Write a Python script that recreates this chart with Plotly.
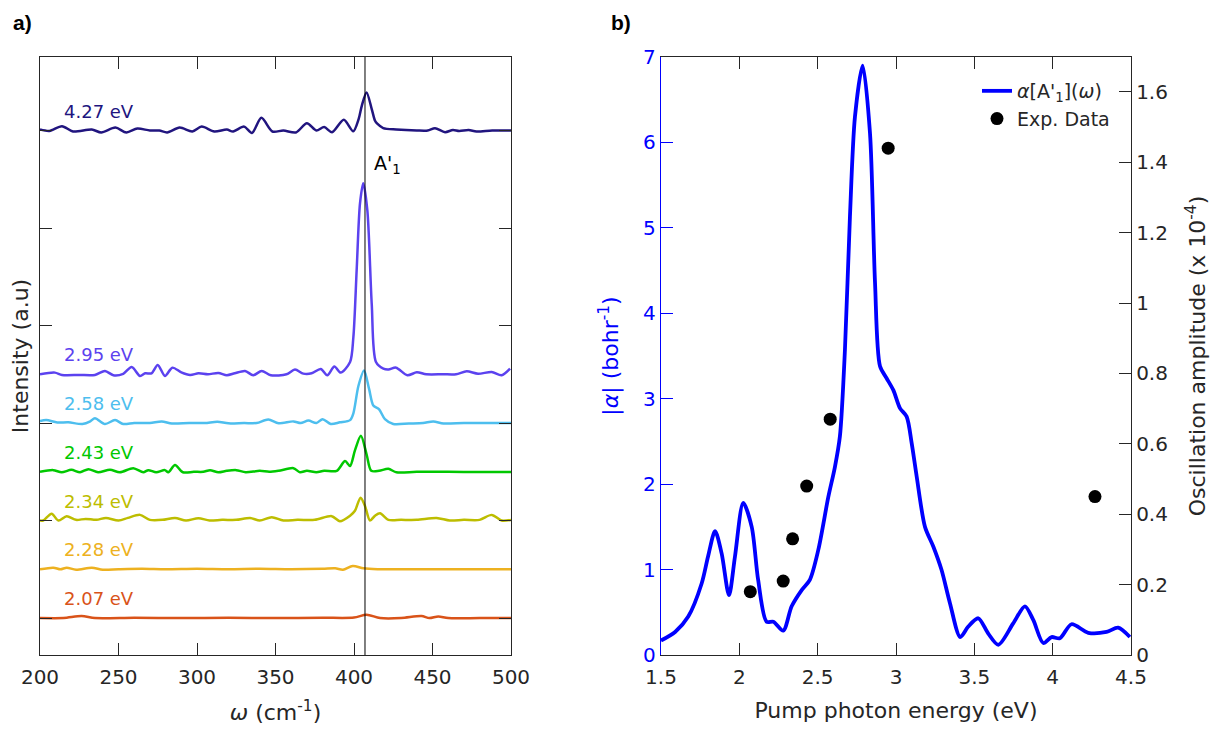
import plotly.graph_objects as go

FONT = "DejaVu Sans"
AX = "#262626"
BLUE = "#0000ff"

# ---------------- Panel a) : spectra (omega in cm^-1, intensity in a.u.) ----------------
labels = ["2.07 eV", "2.28 eV", "2.34 eV", "2.43 eV", "2.58 eV", "2.95 eV", "4.27 eV"]
offsets = [0.0, 0.5, 1.0, 1.5, 2.0, 2.5, 5.0]
colors = ["#d95319", "#edb120", "#bdbd00", "#00c800", "#4dbeee", "#5b42ef", "#21157f"]

w_207 = [200, 215, 226.5, 235, 260, 290, 320, 350, 380, 400, 408, 416.6, 430, 443, 448, 453.7, 460, 480, 500]
i_207 = [0.0, 0.0, 0.02, 0.0, 0.003, 0.0, 0.003, 0.0, 0.003, 0.005, 0.034, 0.0, 0.0, 0.02, 0.0, 0.017, 0.0, 0.0, 0.0]

w_228 = [200, 208.5, 213, 217, 223, 233, 240, 250, 265, 280, 300, 320, 340, 360, 380, 388, 393, 399.2, 406, 415, 430, 460, 500]
i_228 = [0.0, 0.017, 0.0, 0.017, -0.005, 0.017, -0.005, 0.0, 0.005, 0.0, 0.005, 0.0, 0.005, 0.0, 0.005, 0.01, -0.005, 0.034, 0.01, 0.0, 0.0, 0.0, 0.0]

w_234 = [200, 202, 207.4, 211.7, 217, 223, 229, 236, 242, 250, 256, 263.7, 270, 278, 286, 293, 300.9, 308, 316, 325,
         333.8, 340, 347.6, 355, 364, 375, 385.8, 391, 397.5, 400.6, 404.2, 407, 410.2, 413.4, 416.6, 421.9, 430, 440,
         452.6, 461, 470, 480, 487.7, 494, 500]
i_234 = [0.0, 0.0, 0.07, 0.0, 0.045, 0.007, 0.017, 0.007, 0.027, 0.0, 0.027, 0.058, 0.007, 0.007, 0.027, 0.0, 0.024, 0.0,
         0.007, 0.007, 0.027, 0.0, 0.034, 0.0, 0.007, 0.007, 0.045, -0.007, 0.05, 0.1, 0.235, 0.15, 0.0, 0.05, 0.075,
         0.007, 0.007, 0.007, 0.027, 0.0, 0.007, 0.007, 0.058, 0.0, 0.007]

w_243 = [200, 208.5, 213.8, 220, 225.5, 230.8, 237, 244.6, 250.9, 259.4, 265.8, 269, 274, 279.6, 281.7, 286, 291, 298,
         304, 308.3, 313.6, 319, 325, 331, 340, 346, 352, 361.4, 365.6, 370, 376, 381, 389, 394.3, 397.5, 400.6, 404.4,
         408, 411, 416, 421.9, 427, 440, 460, 480, 500]
i_243 = [0.0, 0.017, -0.005, 0.02, -0.005, 0.027, -0.005, 0.02, -0.005, 0.037, -0.005, 0.017, -0.005, 0.017, -0.005,
         0.07, -0.005, 0.0, 0.0, 0.017, -0.005, 0.01, 0.017, -0.005, 0.01, 0.0, 0.01, 0.037, -0.005, 0.01, -0.005, 0.01,
         0.01, 0.11, 0.06, 0.22, 0.37, 0.18, 0.01, 0.01, 0.03, -0.005, 0.0, 0.0, -0.003, -0.003]

w_258 = [200, 204, 211, 218, 227, 232, 235, 241.4, 247.8, 253, 260, 270, 277.5, 284, 295, 305, 313, 320, 330, 338,
         345.4, 352, 361.4, 366, 371, 376, 380, 385.2, 391, 397.5, 399.6, 402.8, 406.4, 409.6, 412.3, 416, 419.7, 425,
         435, 444, 450.5, 457, 470, 485, 500]
i_258 = [0.02, 0.03, 0.005, 0.007, -0.01, 0.017, 0.05, -0.01, 0.03, -0.01, 0.0, 0.0, 0.017, -0.005, 0.0, 0.0, 0.013,
         -0.003, 0.0, 0.0, 0.037, -0.003, 0.017, 0.0, 0.025, 0.0, 0.04, -0.01, 0.007, 0.03, 0.1, 0.38, 0.54, 0.35, 0.18,
         0.14, 0.04, -0.01, -0.005, 0.0, 0.017, -0.005, 0.0, 0.0, 0.0]

w_295 = [200, 209.5, 214, 225, 235, 241.4, 246.7, 253, 258.4, 263.7, 267, 271, 275, 279.6, 284.3, 290, 295.6, 301, 307,
         313.6, 319, 324, 330.6, 335.8, 341.2, 347, 357, 362.4, 367.7, 373, 378.8, 383, 387.5, 391.5, 397.5, 399.6,
         401.7, 403.8, 405.9, 408.5, 411.3, 414, 418.7, 422, 426.8, 434, 440, 446, 456.7, 465, 471.8, 479, 487.7, 494,
         499.4]
i_295 = [0, 0.017, -0.007, -0.007, -0.007, 0.034, -0.01, 0.005, 0.075, -0.017, 0.01, 0.01, 0.096, -0.017, 0.068, 0.02,
         -0.007, 0.01, 0.0, 0.014, -0.01, 0.01, 0.034, -0.01, 0.034, -0.01, 0.0, 0.048, 0.007, 0.01, 0.055, -0.01, 0.08,
         0.017, 0.126, 0.38, 1.07, 1.75, 1.96, 1.68, 0.72, 0.126, 0.058, 0.05, 0.068, -0.01, 0.02, 0.0, 0.0, 0.0, 0.03,
         0.005, 0.024, -0.01, 0.058]

w_427 = [200, 206, 214, 221, 233, 239, 248, 255, 262, 270, 276, 281, 289, 297, 303, 311, 319, 323, 330, 335, 341, 348,
         355, 363, 370, 376, 381, 386, 393.5, 399.5, 403, 405, 408, 411.3, 413.4, 414.8, 418.6, 427, 440, 447, 451.6,
         458, 463, 467, 473, 478, 488, 500]
i_427 = [0.01, -0.005, 0.045, -0.01, 0.01, -0.02, 0.03, -0.02, 0.02, 0.0, 0.0, -0.02, 0.03, -0.01, 0.04, -0.01, 0.01,
         -0.01, 0.04, -0.025, 0.13, -0.01, 0.0, -0.02, 0.075, 0.0, 0.035, -0.017, 0.11, -0.007, 0.12, 0.256, 0.39, 0.22,
         0.10, 0.07, 0.025, 0.01, 0.0, 0.0, 0.024, -0.017, 0.005, -0.005, 0.005, -0.01, 0.0, 0.0]

spectra_w = [w_207, w_228, w_234, w_243, w_258, w_295, w_427]
spectra_i = [i_207, i_228, i_234, i_243, i_258, i_295, i_427]

A1_freq = 407  # cm^-1

# ---------------- Panel b) : |alpha| vs pump energy and experimental amplitude ----------------
E_calc = [1.50, 1.59, 1.674, 1.76, 1.80, 1.845, 1.887, 1.934, 1.972, 2.025, 2.079, 2.12, 2.174, 2.217, 2.28, 2.334,
          2.398, 2.45, 2.504, 2.568, 2.61, 2.642, 2.674, 2.706, 2.738, 2.787, 2.834, 2.866, 2.898, 2.94, 2.983, 3.025,
          3.068, 3.10, 3.132, 3.185, 3.238, 3.29, 3.344, 3.41, 3.46, 3.525, 3.589, 3.653, 3.748, 3.823, 3.876, 3.94,
          3.993, 4.046, 4.12, 4.227, 4.344, 4.418, 4.493]
alpha_calc = [0.17, 0.27, 0.45, 0.84, 1.15, 1.45, 1.19, 0.70, 1.15, 1.78, 1.50, 0.88, 0.39, 0.39, 0.285, 0.57, 0.76,
              0.88, 1.23, 1.85, 2.2, 2.56, 3.57, 5.13, 6.30, 6.90, 6.11, 4.36, 3.38, 3.24, 3.10, 2.89, 2.79, 2.48, 2.09,
              1.50, 1.27, 1.0, 0.61, 0.21, 0.33, 0.43, 0.25, 0.12, 0.37, 0.57, 0.41, 0.14, 0.21, 0.195, 0.36, 0.26, 0.27,
              0.32, 0.21]

E_exp = [2.07, 2.28, 2.34, 2.43, 2.58, 2.95, 4.27]
amp_exp = [0.18, 0.21, 0.33, 0.48, 0.67, 1.44, 0.45]

amp_ticks = [0, 0.2, 0.4, 0.6, 0.8, 1.0, 1.2, 1.4, 1.6]
amp_ticktext = ["0", "0.2", "0.4", "0.6", "0.8", "1", "1.2", "1.4", "1.6"]

# page body has an 8px margin: figure size and a pixel->paper helper account for it
OFF = 8
W, H = 1219 - OFF, 732 - OFF


def px(x):
    return (x - OFF) / W


def py(y):
    return 1 - (y - OFF) / H


fig = go.Figure()

for lab, w, iv, off, col in zip(labels, spectra_w, spectra_i, offsets, colors):
    fig.add_trace(go.Scatter(
        x=w, y=[v + off for v in iv], mode="lines",
        line=dict(color=col, width=2.5, shape="spline", smoothing=0.8),
        xaxis="x", yaxis="y", showlegend=False, hoverinfo="skip"))
    fig.add_annotation(x=214, y=off + 0.2, xref="x", yref="y", text=lab, showarrow=False,
                       xanchor="left", yanchor="middle", font=dict(color=col, size=18, family=FONT))

fig.add_shape(type="line", x0=A1_freq, x1=A1_freq, y0=0, y1=1, xref="x", yref="y domain",
              line=dict(color="black", width=1))
fig.add_annotation(x=A1_freq + 4.5, y=4.65, xref="x", yref="y", text="A'<sub>1</sub>", showarrow=False,
                   xanchor="left", yanchor="middle", font=dict(color="black", size=19, family=FONT))

fig.add_trace(go.Scatter(
    x=E_calc, y=alpha_calc, mode="lines", name="<i>α</i>[A'<sub>1</sub>](<i>ω</i>)",
    line=dict(color=BLUE, width=3.8, shape="spline", smoothing=0.8),
    xaxis="x2", yaxis="y2"))
fig.add_trace(go.Scatter(
    x=E_exp, y=amp_exp, mode="markers", name="Exp. Data",
    marker=dict(color="black", size=13), xaxis="x2", yaxis="y3"))

common = dict(showgrid=False, zeroline=False, showline=True, linewidth=1.3, ticks="inside", ticklen=12,
              tickwidth=1.3, automargin=False)
ydom = [py(655), py(57)]
TF = 20
TT = 22

fig.update_layout(
    width=W, height=H,
    margin=dict(l=0, r=0, t=0, b=0),
    paper_bgcolor="white", plot_bgcolor="white",
    font=dict(family=FONT, size=TF, color=AX),
    xaxis=dict(domain=[px(40), px(511)], range=[200, 500], tickvals=[200, 250, 300, 350, 400, 450, 500],
               anchor="y", mirror="ticks", linecolor=AX, tickcolor=AX, ticklabelstandoff=4,
               tickfont=dict(size=TF, color=AX),
               title=dict(text="<i>ω</i> (cm<sup>-1</sup>)", font=dict(size=TT, color=AX), standoff=16), **common),
    yaxis=dict(domain=ydom, range=[-0.379, 5.754], tickvals=[0, 1, 2, 3, 4, 5], showticklabels=False,
               anchor="x", mirror="ticks", linecolor=AX, tickcolor=AX,
               title=dict(text="Intensity (a.u)", font=dict(size=TT, color=AX), standoff=6), **common),
    xaxis2=dict(domain=[px(661), px(1131)], range=[1.5, 4.5], tickvals=[1.5, 2, 2.5, 3, 3.5, 4, 4.5],
                ticktext=["1.5", "2", "2.5", "3", "3.5", "4", "4.5"], ticklabelstandoff=4,
                anchor="y2", mirror="ticks", linecolor=AX, tickcolor=AX,
                tickfont=dict(size=TF, color=AX),
                title=dict(text="Pump photon energy (eV)", font=dict(size=TT, color=AX), standoff=14), **common),
    yaxis2=dict(domain=ydom, range=[0, 7], tickvals=[0, 1, 2, 3, 4, 5, 6, 7], anchor="x2",
                linecolor=BLUE, tickcolor=BLUE, tickfont=dict(size=TF, color=BLUE),
                title=dict(text="|<i>α</i>| (bohr<sup>-1</sup>)", font=dict(size=TT, color=BLUE), standoff=18),
                **common),
    yaxis3=dict(domain=ydom, range=[0, 1.699], tickvals=amp_ticks, ticktext=amp_ticktext, anchor="x2",
                overlaying="y2", side="right", linecolor=AX, tickcolor=AX, tickfont=dict(size=TF, color=AX),
                title=dict(text="Oscillation amplitude (x 10<sup>-4</sup>)", font=dict(size=TT, color=AX),
                           standoff=22), **common),
    legend=dict(x=px(1115), y=py(72), xanchor="right", yanchor="top", bgcolor="rgba(0,0,0,0)",
                font=dict(size=19, family=FONT, color=AX)),
)

fig.add_annotation(x=px(11), y=py(22), xref="paper", yref="paper", text="<b>a)</b>", showarrow=False,
                   xanchor="left", yanchor="middle",
                   font=dict(size=21, family="Liberation Sans", color="black"))
fig.add_annotation(x=px(609), y=py(22), xref="paper", yref="paper", text="<b>b)</b>", showarrow=False,
                   xanchor="left", yanchor="middle",
                   font=dict(size=21, family="Liberation Sans", color="black"))

fig.write_html("out.html")
